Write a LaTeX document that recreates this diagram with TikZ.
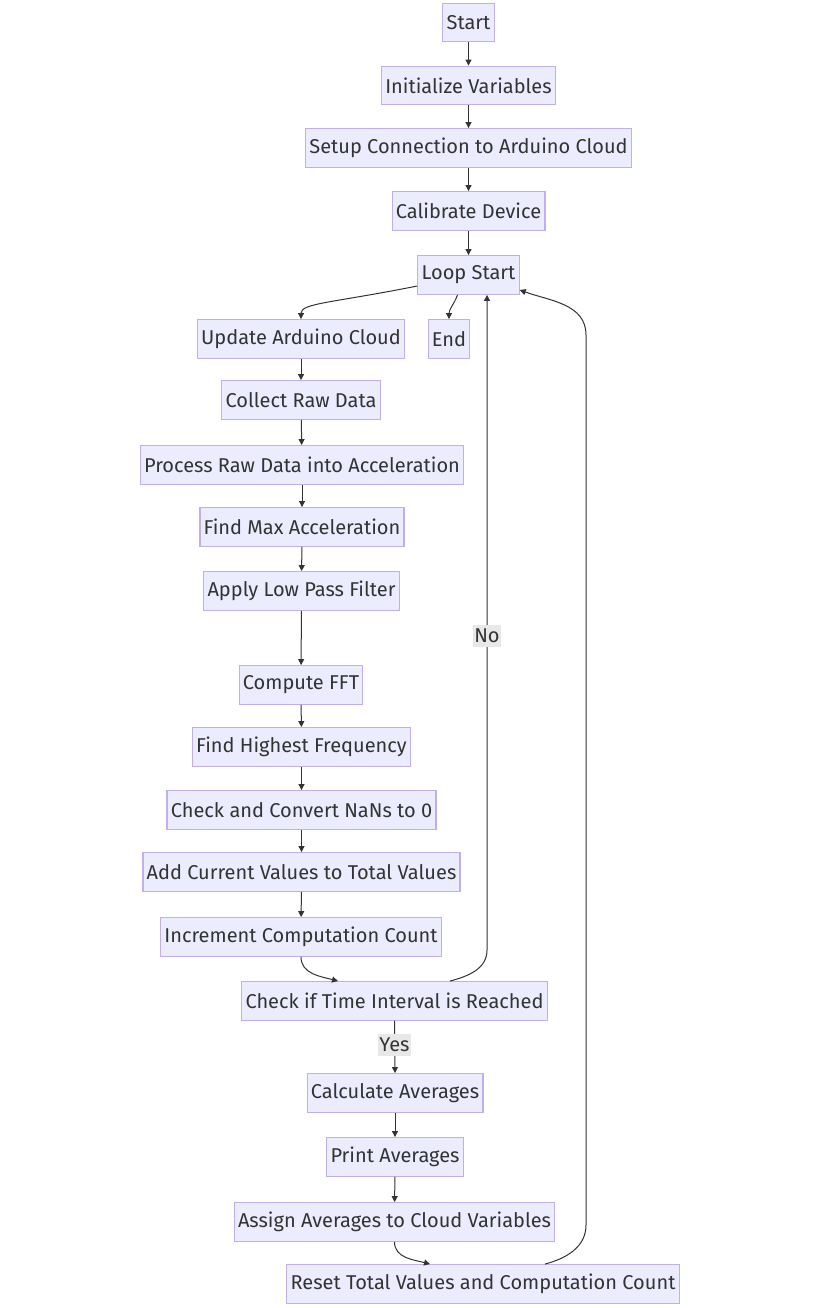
\documentclass[tikz,border=0pt]{standalone}
\usepackage{fontspec}
\setmainfont{Fira Sans}
\usetikzlibrary{arrows.meta,calc}
\definecolor{boxfill}{HTML}{ECECFF}
\definecolor{boxline}{HTML}{C2AEEE}
\definecolor{ink}{HTML}{333333}
\definecolor{lblfill}{HTML}{E8E8E8}

\begin{document}
\begin{tikzpicture}[x=0.75pt,y=-0.75pt,
  box/.style={draw=boxline,fill=boxfill,text=ink,line width=0.9pt,
    minimum height=29pt,inner xsep=2.8pt,inner ysep=0pt,
    font=\fontsize{15}{17}\selectfont},
  arr/.style={draw=ink,line width=0.75pt,-{Triangle[length=4.5pt,width=4.5pt]}},
  lbl/.style={fill=lblfill,text=ink,inner xsep=1pt,inner ysep=3pt,
    font=\fontsize{15}{17}\selectfont}]
\useasboundingbox (0,0) rectangle (817,1308);

% Setup
\node[box] (start) at (468.5,22.5) {Start};
\node[box] (init)  at (468.5,85.5) {Initialize Variables};
\node[box] (setup) at (468.5,148)  {Setup Connection to Arduino Cloud};
\node[box] (calib) at (468.5,211)  {Calibrate Device};
\node[box] (loop)  at (468.5,275)  {Loop Start};
\node[box] (stop)  at (449,339)    {End};

% Loop body
\node[box] (upd)   at (301,339)    {Update Arduino Cloud};
\node[box] (raw)   at (301,400)    {Collect Raw Data};
\node[box] (proc)  at (302,465)    {Process Raw Data into Acceleration};
\node[box] (amax)  at (302,527)    {Find Max Acceleration};
\node[box] (lpf)   at (301.5,591)  {Apply Low Pass Filter};
\node[box] (fft)   at (301,685)    {Compute FFT};
\node[box] (freq)  at (301.5,747)  {Find Highest Frequency};
\node[box] (nans)  at (301.5,810)  {Check and Convert NaNs to 0};
\node[box] (total) at (301.5,872)  {Add Current Values to Total Values};
\node[box] (inc)   at (301,937)    {Increment Computation Count};

% Averages
\node[box] (chk)   at (394.5,1001) {Check if Time Interval is Reached};
\node[box] (avg)   at (395,1093)   {Calculate Averages};
\node[box] (prt)   at (395,1157)   {Print Averages};
\node[box] (asg)   at (394.5,1222) {Assign Averages to Cloud Variables};
\node[box] (rst)   at (483,1284)   {Reset Total Values and Computation Count};

% Straight arrows
\foreach \a/\b in {start/init,init/setup,setup/calib,calib/loop,
    upd/raw,raw/proc,proc/amax,amax/lpf,lpf/fft,fft/freq,freq/nans,
    nans/total,total/inc,avg/prt,prt/asg}
  \draw[arr] (\a) -- (\b);

% Curved arrows
\draw[arr] ($(loop.west)+(0,11)$) .. controls +(-85,17) and +(0,-16) .. (upd.north);
\draw[arr] ($(loop.south)+(-11,0)$) to[out=250,in=90] (stop.north);
\draw[arr] (inc.south) to[out=-90,in=165] ($(chk.north)+(-56.5,0)$);
\draw[arr] (asg.south) to[out=-90,in=165] ($(rst.north)+(-53,0)$);

% Yes / No
\draw[arr] (chk.south) -- (avg.north);
\node[lbl] (yes) at (394.5,1045) {Yes};
\coordinate (nobend) at (487,950);
\draw[arr] ($(chk.north)+(55.5,0)$) to[out=15,in=-90] (nobend)
  -- ($(loop.south)+(18.5,0)$);
\node[lbl] (no) at (487,636) {No};

% Back to loop start
\coordinate (rbend1) at (586,1225);
\coordinate (rbend2) at (586,335);
\draw[arr] ($(rst.north)+(62,0)$) to[out=15,in=-90] (rbend1)
  -- (rbend2) to[out=90,in=-20] ($(loop.east)+(0,15)$);
\end{tikzpicture}
\end{document}
